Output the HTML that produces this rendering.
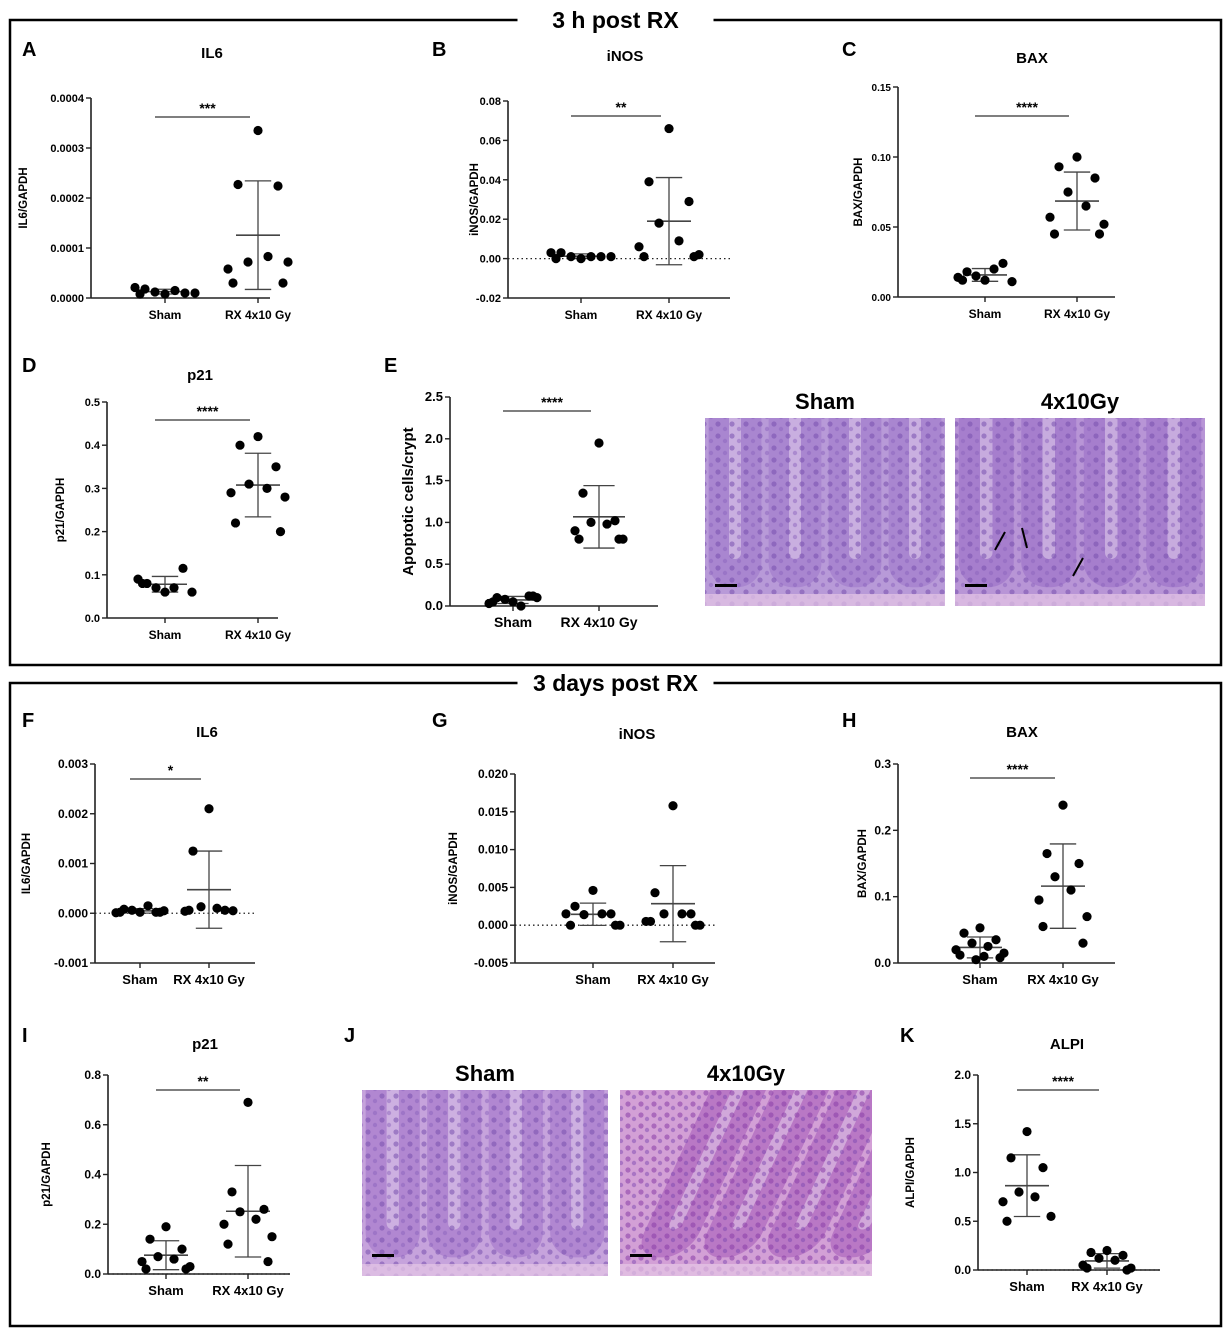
<!DOCTYPE html>
<html><head><meta charset="utf-8">
<style>
html,body{margin:0;padding:0;background:#fff;}
svg{display:block;font-family:"Liberation Sans",Arial,sans-serif;}
</style></head>
<body>
<svg id="fig" width="1232" height="1338" viewBox="0 0 1232 1338" xmlns="http://www.w3.org/2000/svg">
<defs>
<pattern id="cellsA" width="14" height="12" patternUnits="userSpaceOnUse">
<circle cx="4" cy="4" r="2.6" fill="#7a52b0" opacity="0.7"/><circle cx="11" cy="9" r="2.2" fill="#8a62bd" opacity="0.6"/>
</pattern>
<pattern id="cellsB" width="13" height="11" patternUnits="userSpaceOnUse">
<circle cx="4" cy="4" r="2.6" fill="#8a3fa8" opacity="0.7"/><circle cx="10" cy="8" r="2.2" fill="#7c46b0" opacity="0.6"/>
</pattern>
</defs>
<g id="frames"></g>
<g id="charts"></g>
<g id="histo"></g>
</svg>
<script>
// ---- data ----
const groups = ["Sham", "RX 4x10 Gy"];
const aSham = [0.000008,0.000018,0.00001,0.000012,0.000015,0.000021,0.00001,0.000008];
const aRx = [0.000335,0.000227,0.000224,0.000072,0.000083,0.000058,0.000072,0.00003,0.00003];
const aTicks = ["0.0000","0.0001","0.0002","0.0003","0.0004"];
const bSham = [0.0,0.003,0.001,0.001,0.001,0.003,0.001,0.0];
const bRx = [0.066,0.039,0.029,0.018,0.009,0.006,0.002,0.001,0.001];
const bTicks = ["-0.02","0.00","0.02","0.04","0.06","0.08"];
const cSham = [0.012,0.018,0.024,0.015,0.02,0.014,0.011,0.012];
const cRx = [0.1,0.093,0.085,0.075,0.065,0.057,0.052,0.045,0.045];
const cTicks = ["0.00","0.05","0.10","0.15"];
const dSham = [0.06,0.08,0.115,0.07,0.07,0.09,0.06,0.08];
const dRx = [0.42,0.4,0.35,0.31,0.3,0.29,0.28,0.22,0.2];
const dTicks = ["0.0","0.1","0.2","0.3","0.4","0.5"];
const eSham = [0.05,0.1,0.12,0.08,0.0,0.03,0.1,0.05,0.12];
const eRx = [1.95,1.35,1.02,1.0,0.98,0.9,0.8,0.8,0.8];
const eTicks = ["0.0","0.5","1.0","1.5","2.0","2.5"];
const fSham = [0.00002,0.00008,0.00002,0.00006,0.00015,0.00001,0.00005,0.00002,0.00002];
const fRx = [0.0021,0.00125,0.00006,0.00013,0.0001,0.00004,0.00005,0.00006];
const fTicks = ["-0.001","0.000","0.001","0.002","0.003"];
const gSham = [0.0046,0.0025,0.0015,0.0014,0.0015,0.0015,0.0,0.0,0.0];
const gRx = [0.0158,0.0043,0.0015,0.0015,0.0015,0.0005,0.0,0.0005,0.0];
const gTicks = ["-0.005","0.000","0.005","0.010","0.015","0.020"];
const hSham = [0.053,0.045,0.035,0.03,0.025,0.02,0.015,0.012,0.008,0.005,0.01];
const hRx = [0.238,0.165,0.15,0.13,0.11,0.095,0.07,0.055,0.03];
const hTicks = ["0.0","0.1","0.2","0.3"];
const iSham = [0.19,0.14,0.1,0.07,0.06,0.05,0.03,0.02,0.02];
const iRx = [0.69,0.33,0.26,0.25,0.22,0.2,0.15,0.12,0.05];
const iTicks = ["0.0","0.2","0.4","0.6","0.8"];
const kSham = [1.42,1.15,1.05,0.8,0.75,0.7,0.55,0.5];
const kRx = [0.2,0.18,0.15,0.12,0.1,0.05,0.02,0.02,0.0];
const kTicks = ["0.0","0.5","1.0","1.5","2.0"];

const NS="http://www.w3.org/2000/svg";
function mk(tag, attrs, parent, txt){
  const e=document.createElementNS(NS,tag);
  for(const k in attrs) e.setAttribute(k,attrs[k]);
  if(txt!==undefined) e.textContent=txt;
  parent.appendChild(e); return e;
}
function stats(a){const m=a.reduce((s,v)=>s+v,0)/a.length;const sd=Math.sqrt(a.reduce((s,v)=>s+(v-m)*(v-m),0)/(a.length-1));return [m,sd];}
const JIT=[0,-2,2,-1,1,-3,3,-2.5,2.5,-0.5,0.5,-1.5,1.5];

const frames=document.getElementById('frames');
function frame(x,y,w,h,title,name){
  const r=mk('rect',{x:x,y:y,width:w,height:h,fill:'none',stroke:'#000','stroke-width':2.5},frames);
  
  
  mk('rect',{x:x+w/2-98,y:y-12,width:196,height:24,fill:'#fff'},frames);
  const t=mk('text',{x:x+w/2,y:y+8,'text-anchor':'middle','font-size':23,'font-weight':'bold'},frames,title);
  
  
}
frame(10,20,1211,645,"3 h post RX","section-3h");
frame(10,683,1211,643,"3 days post RX","section-3d");

const charts=document.getElementById('charts');
function panel(c, sham, rx, ticks){
  const g=mk('g',{},charts);
  
  
  const tv=ticks.map(Number);
  const ymin=tv[0], ymax=tv[tv.length-1];
  const Y=v=>c.yb+(v-ymin)/(ymax-ymin)*(c.yt-c.yb);
  const L=mk('text',{x:c.lx,y:c.ly,'font-size':20,'font-weight':'bold'},g,c.id);
  
  
  const T=mk('text',{x:c.tx,y:c.ty,'text-anchor':'middle','font-size':c.tfs||15,'font-weight':'bold'},g,c.title);
  
  
  const yt=mk('text',{x:c.ytx,y:(c.yt+c.yb)/2,'text-anchor':'middle','font-size':c.yfs||11.5,'font-weight':'bold',transform:`rotate(-90 ${c.ytx} ${(c.yt+c.yb)/2})`},g,c.ylab);
  
  
  const ya=mk('line',{x1:c.ax,y1:c.yt,x2:c.ax,y2:c.yb,stroke:'#222','stroke-width':1.6},g);
  
  
  const xa=mk('line',{x1:c.ax,y1:c.yb,x2:c.xe,y2:c.yb,stroke:'#222','stroke-width':1.6},g);
  
  
  ticks.forEach((t,i)=>{
    const y=Y(tv[i]);
    mk('line',{x1:c.ax-5,y1:y,x2:c.ax,y2:y,stroke:'#222','stroke-width':1.4},g);
    const tl=mk('text',{x:c.ax-7,y:y+4,'text-anchor':'end','font-size':c.tkfs||11,'font-weight':'bold'},g,t);
    
    
  });
  if(ymin<0 || c.zeroDot){
    const z=mk('line',{x1:c.ax,y1:Y(0),x2:c.xe,y2:Y(0),stroke:'#222','stroke-width':1.3,'stroke-dasharray':'1.5 3'},g);
    
    
  }
  [c.x1,c.x2].forEach((x,i)=>{
    mk('line',{x1:x,y1:c.yb,x2:x,y2:c.yb+5,stroke:'#222','stroke-width':1.4},g);
    const xl=mk('text',{x:x,y:c.yb+21,'text-anchor':'middle','font-size':c.xfs||12,'font-weight':'bold'},g,groups[i]);
    
    
  });
  [[sham,c.x1,'sham'],[rx,c.x2,'rx']].forEach(([arr,cx,nm])=>{
    const [m,sd]=stats(arr);
    const hw=c.hw||22;
    const eb=mk('g',{stroke:'#444','stroke-width':1.3},g);
    
    
    mk('line',{x1:cx,y1:Y(m+sd),x2:cx,y2:Y(m-sd)},eb);
    mk('line',{x1:cx-hw*0.6,y1:Y(m+sd),x2:cx+hw*0.6,y2:Y(m+sd)},eb);
    mk('line',{x1:cx-hw*0.6,y1:Y(m-sd),x2:cx+hw*0.6,y2:Y(m-sd)},eb);
    mk('line',{x1:cx-hw,y1:Y(m),x2:cx+hw,y2:Y(m),'stroke-width':1.6},eb);
    const sp=c.sp||9;
    arr.forEach((v,i)=>{
      const off=JIT[i%JIT.length]*sp;
      const p=mk('circle',{cx:cx+off,cy:Y(v),r:c.r||4.6,fill:'#000'},g);
      
      
    });
  });
  if(c.sig){
    const sl=mk('line',{x1:c.x1-10,y1:c.sy,x2:c.x2-8,y2:c.sy,stroke:'#333','stroke-width':1.3},g);
    
    
    const st=mk('text',{x:(c.x1+c.x2)/2-4,y:c.sy-4,'text-anchor':'middle','font-size':14,'font-weight':'bold'},g,c.sig);
    
    
  }
}
panel({id:'A',lx:22,ly:56,title:'IL6',tx:212,ty:58,ylab:'IL6/GAPDH',ytx:27,ax:91,yt:98,yb:298,xe:270,x1:165,x2:258,sig:'***',sy:117,sp:10},aSham,aRx,aTicks);
panel({id:'B',lx:432,ly:56,title:'iNOS',tx:625,ty:61,ylab:'iNOS/GAPDH',ytx:478,ax:508,yt:101,yb:298,xe:730,x1:581,x2:669,sig:'**',sy:116,sp:10},bSham,bRx,bTicks);
panel({id:'C',lx:842,ly:56,title:'BAX',tx:1032,ty:63,ylab:'BAX/GAPDH',ytx:862,tkfs:10,ax:898,yt:87,yb:297,xe:1115,x1:985,x2:1077,sig:'****',sy:116,sp:9},cSham,cRx,cTicks);
panel({id:'D',lx:22,ly:372,title:'p21',tx:200,ty:380,ylab:'p21/GAPDH',ytx:64,ax:107,yt:402,yb:618,xe:278,x1:165,x2:258,sig:'****',sy:420,sp:9},dSham,dRx,dTicks);
panel({id:'E',lx:384,ly:372,title:'',tx:0,ty:0,ylab:'Apoptotic cells/crypt',ytx:413,yfs:15,tkfs:13,xfs:14,ax:450,yt:397,yb:606,xe:658,x1:513,x2:599,sig:'****',sy:411,sp:8,hw:26},eSham,eRx,eTicks);
panel({id:'F',lx:22,ly:727,title:'IL6',tx:207,ty:737,ylab:'IL6/GAPDH',ytx:30,ax:95,yt:764,yb:963,xe:255,x1:140,x2:209,sig:'*',sy:779,sp:8,xfs:13,tkfs:12},fSham,fRx,fTicks);
panel({id:'G',lx:432,ly:727,title:'iNOS',tx:637,ty:739,ylab:'iNOS/GAPDH',ytx:457,ax:515,yt:774,yb:963,xe:715,x1:593,x2:673,sp:9,xfs:13,tkfs:12},gSham,gRx,gTicks);
panel({id:'H',lx:842,ly:727,title:'BAX',tx:1022,ty:737,ylab:'BAX/GAPDH',ytx:866,ax:898,yt:764,yb:963,xe:1115,x1:980,x2:1063,sig:'****',sy:778,sp:8,xfs:13,tkfs:12},hSham,hRx,hTicks);
panel({id:'I',lx:22,ly:1042,title:'p21',tx:205,ty:1049,ylab:'p21/GAPDH',ytx:50,ax:108,yt:1075,yb:1274,xe:290,x1:166,x2:248,sig:'**',sy:1090,sp:8,zeroDot:true,xfs:13,tkfs:12},iSham,iRx,iTicks);
panel({id:'K',lx:900,ly:1042,title:'ALPI',tx:1067,ty:1049,ylab:'ALPI/GAPDH',ytx:914,ax:978,yt:1075,yb:1270,xe:1160,x1:1027,x2:1107,sig:'****',sy:1090,sp:8,zeroDot:true,xfs:13,tkfs:12},kSham,kRx,kTicks);

// ---- histology images ----
const histo=document.getElementById('histo');
const defs=document.querySelector('defs');
const Jl=mk('text',{x:344,y:1042,'font-size':20,'font-weight':'bold'},histo,'J');


let clipN=0;
function micro(x,y,w,h,label,name,bg,pat,dark,tilt){
  const g=mk('g',{},histo);
  
  
  const t=mk('text',{x:x+w/2,y:y-9,'text-anchor':'middle','font-size':22,'font-weight':'bold'},g,label);
  
  
  const id='clip'+(clipN++);
  const cp=mk('clipPath',{id:id},defs);
  mk('rect',{x:x,y:y,width:w,height:h},cp);
  const img=mk('g',{'clip-path':`url(#${id})`},g);
  mk('rect',{x:x,y:y,width:w,height:h,fill:bg},img);
  const cw=w/4;
  for(let i=0;i<4;i++){
    const cx=x+cw*i+cw/2;
    mk('rect',{x:cx-cw*0.44,y:y-60,width:cw*0.88,height:h*0.9+60,rx:cw*0.4,fill:dark,opacity:0.5,transform:`skewX(${tilt})`,'transform-origin':`${cx} ${y+h}`},img);
    mk('rect',{x:cx-cw*0.1,y:y-60,width:cw*0.2,height:h*0.75+60,rx:cw*0.1,fill:'#efe3f3',opacity:0.45,transform:`skewX(${tilt})`,'transform-origin':`${cx} ${y+h}`},img);
  }
  mk('rect',{x:x,y:y,width:w,height:h,fill:`url(#${pat})`,opacity:0.8},img);
  mk('rect',{x:x,y:y+h-12,width:w,height:12,fill:'#e6c6e6',opacity:0.7},img);
  const sb=mk('rect',{x:x+10,y:y+h-22,width:22,height:3,fill:'#000'},g);
  
  
}
micro(705,418,240,188,'Sham','image-e-sham','#b89ad8','cellsA','#9a72c8',0);
micro(955,418,250,188,'4x10Gy','image-e-rx','#b895d6','cellsA','#9468c4',0);
micro(362,1090,246,186,'Sham','image-j-sham','#c6a3dc','cellsA','#9c6cc6',0);
micro(620,1090,252,186,'4x10Gy','image-j-rx','#d3a0d6','cellsB','#a050b4',-25);
[[995,550,1005,532],[1027,548,1022,528],[1073,576,1083,558]].forEach(a=>{
  const l=mk('line',{x1:a[0],y1:a[1],x2:a[2],y2:a[3],stroke:'#000','stroke-width':2},histo);
  
  
});
</script>
</body></html>
